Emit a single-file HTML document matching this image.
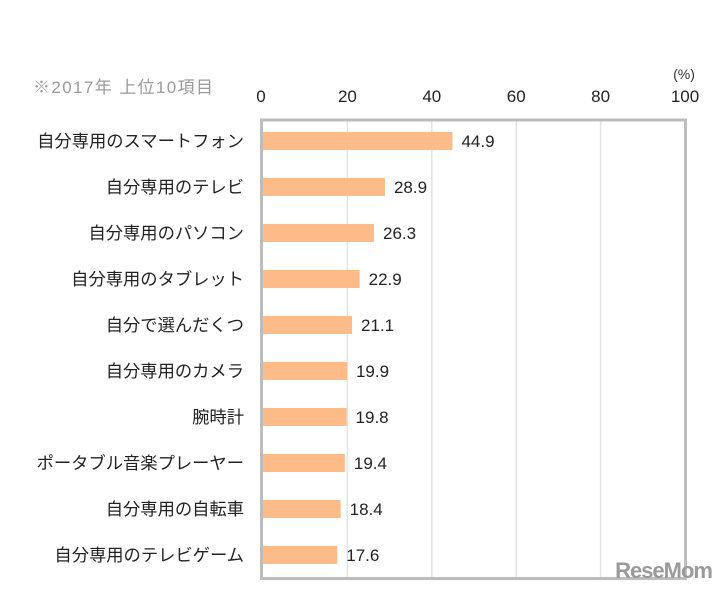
<!DOCTYPE html>
<html><head><meta charset="utf-8">
<style>
body{margin:0;background:#fff;width:726px;height:591px;overflow:hidden;font-family:"Liberation Sans","Noto Sans CJK JP",sans-serif;}
svg text{font-family:"Liberation Sans","Noto Sans CJK JP",sans-serif;}
</style></head><body>
<svg id="chart" width="726" height="591" xmlns="http://www.w3.org/2000/svg">
<text x="33" y="93" font-size="17" fill="#999" textLength="180">※2017年 上位10項目</text>
<text x="684" y="79" font-size="14" fill="#333" text-anchor="middle">(%)</text>
<g id="grid"></g>
<g id="bars"></g>
<rect x="261.5" y="120" width="424" height="458.5" fill="none" stroke="#bdbdbd" stroke-width="3"/>
<text x="712" y="578" font-size="22" font-weight="bold" fill="#9a9a9a" text-anchor="end" style="letter-spacing:-1px">ReseMom</text>
</svg>
<script>
const categories=["自分専用のスマートフォン","自分専用のテレビ","自分専用のパソコン","自分専用のタブレット","自分で選んだくつ","自分専用のカメラ","腕時計","ポータブル音楽プレーヤー","自分専用の自転車","自分専用のテレビゲーム"];
const values=[44.9,28.9,26.3,22.9,21.1,19.9,19.8,19.4,18.4,17.6];
const ticks=[0,20,40,60,80,100];
const NS="http://www.w3.org/2000/svg";
const x0=263,x1=685,yTop=141,step=46,bh=18;
const xs=v=>x0+(v/100)*(x1-x0);
const ys=i=>yTop+i*step;
function mk(t,a,p){const e=document.createElementNS(NS,t);for(const k in a)e.setAttribute(k,a[k]);p.appendChild(e);return e;}
const grid=document.getElementById('grid'),bars=document.getElementById('bars'),svg=document.getElementById('chart');
ticks.forEach(t=>{
  const tx=mk('text',{x:xs(t)-(t===0?2:0),y:102,'font-size':17,fill:'#222','text-anchor':'middle'},svg);tx.textContent=t;
  
  
  if(t>0&&t<100){const l=mk('line',{x1:xs(t),x2:xs(t),y1:120,y2:578,stroke:'#e3e3e3','stroke-width':1.5},grid);
  
  }
});
categories.forEach((c,i)=>{
  const y=ys(i);
  const r=mk('rect',{x:x0,y:y-bh/2,width:xs(values[i])-x0,height:bh,fill:'#fdbb8a'},bars);
  
  
  const v=mk('text',{x:xs(values[i])+9,y:y+6,'font-size':17,fill:'#222'},bars);v.textContent=values[i].toFixed(1);
  
  
  const lb=mk('text',{x:244,y:y+6,'font-size':17.3,fill:'#222','text-anchor':'end'},svg);lb.textContent=c;
  
  
});
</script>
</body></html>
